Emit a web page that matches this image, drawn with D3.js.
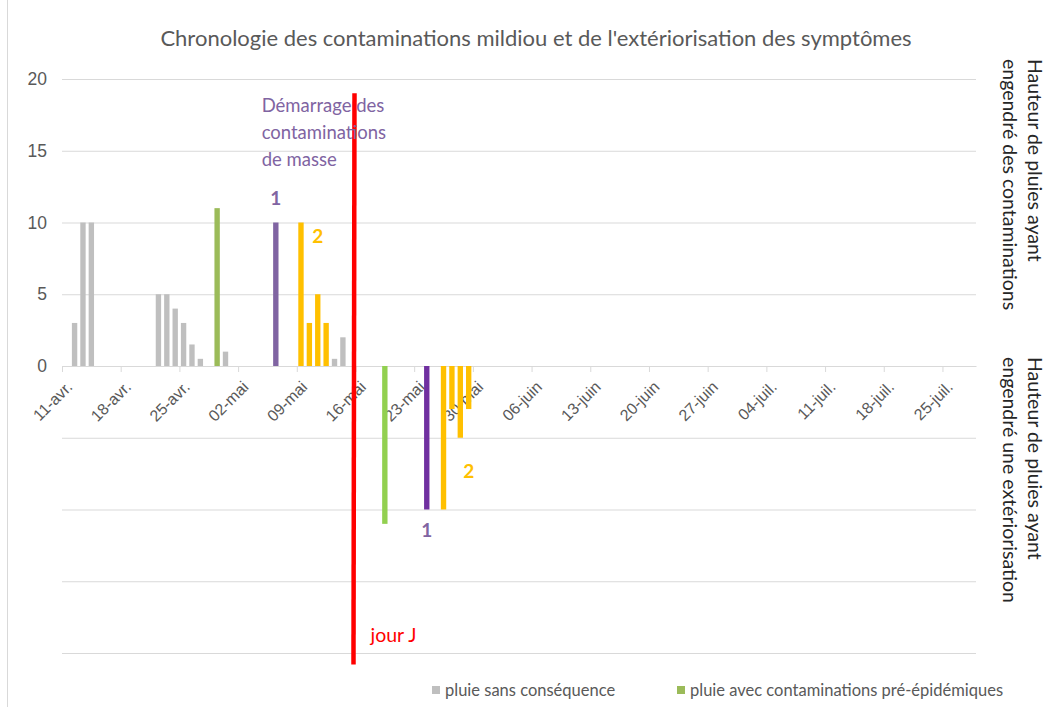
<!DOCTYPE html>
<html>
<head>
<meta charset="utf-8">
<script src="https://cdn.jsdelivr.net/npm/d3@7"></script>
<style>
  body { margin: 0; background: #fff; }
  svg { font-family: Lato, "Liberation Sans", sans-serif; }
  .axis .domain { stroke: #d9d9d9; }
  .axis line { stroke: #d9d9d9; }
  .axis text { fill: #595959; }
  .grid line { stroke: #d9d9d9; }
  .grid .domain { display: none; }
</style>
</head>
<body>
<svg width="1061" height="707"></svg>
<script>
// rain amounts (mm) per day, positive = contamination side, negative = symptom side
const rainNoEffect = [["2021-04-12", 3], ["2021-04-13", 10], ["2021-04-14", 10],
  ["2021-04-22", 5], ["2021-04-23", 5], ["2021-04-24", 4], ["2021-04-25", 3],
  ["2021-04-26", 1.5], ["2021-04-27", 0.5], ["2021-04-30", 1],
  ["2021-05-13", 0.5], ["2021-05-14", 2]]
const rainPreEpidemic = [["2021-04-29", 11]]
const contamination1 = [["2021-05-06", 10]]
const contamination2 = [["2021-05-09", 10], ["2021-05-10", 3], ["2021-05-11", 5], ["2021-05-12", 3]]
const symptomsPre = [["2021-05-19", -11]]
const symptoms1 = [["2021-05-24", -10]]
const symptoms2 = [["2021-05-26", -10], ["2021-05-27", -3], ["2021-05-28", -5], ["2021-05-29", -3]]

const xTickDates = ["2021-04-11", "2021-04-18", "2021-04-25", "2021-05-02", "2021-05-09", "2021-05-16",
  "2021-05-23", "2021-05-30", "2021-06-06", "2021-06-13", "2021-06-20", "2021-06-27",
  "2021-07-04", "2021-07-11", "2021-07-18", "2021-07-25"]
const xTickLabels = ["11-avr.", "18-avr.", "25-avr.", "02-mai", "09-mai", "16-mai", "23-mai", "30-mai",
  "06-juin", "13-juin", "20-juin", "27-juin", "04-juil.", "11-juil.", "18-juil.", "25-juil."]
const yTicks = [0, 5, 10, 15, 20]
const yGrid = [-20, -15, -10, -5, 5, 10, 15, 20]
const jourJ = "2021-05-16"

const parse = d3.timeParse("%Y-%m-%d")

const svg = d3.select("svg"),
      margin = {top: 79, left: 62},
      width = 914,
      height = 574,
      g = svg.append("g").attr("transform", "translate(" + margin.left + "," + margin.top + ")")

const x = d3.scaleTime().domain([parse("2021-04-11"), parse("2021-07-29")]).range([0, width]),
      y = d3.scaleLinear().domain([-20, 20]).range([height, 0])

const dayW = x(parse("2021-04-12")) - x(parse("2021-04-11"))

// outer chart border (left side visible)
svg.append("line")
  .attr("x1", 7.5).attr("x2", 7.5).attr("y1", 0).attr("y2", 707)
  .attr("stroke", "#d9d9d9")

svg.append("text")
  .attr("x", 536).attr("y", 46)
  .attr("text-anchor", "middle")
  .style("font-size", "22px")
  .style("fill", "#595959")
  .text("Chronologie des contaminations mildiou et de l'extériorisation des symptômes")

// gridlines
g.append("g")
  .attr("class", "grid")
  .call(d3.axisLeft(y).tickValues(yGrid).tickSize(-width).tickFormat(""))

// y labels (positive side only)
let yAxis = g.append("g")
  .attr("class", "axis")
  .call(d3.axisLeft(y).tickValues(yTicks).tickSize(0).tickPadding(15))
yAxis.select(".domain").remove()
yAxis.selectAll("text").style("font-size", "17.5px")

// x axis on the zero line
let xAxis = g.append("g")
  .attr("class", "axis")
  .attr("transform", "translate(0," + y(0) + ")")
  .call(d3.axisBottom(x)
    .tickValues(xTickDates.map(parse))
    .tickFormat((d, i) => xTickLabels[i])
    .tickSize(6).tickSizeOuter(0))
xAxis.selectAll("text")
  .attr("x", 0).attr("y", 0).attr("dy", "0.35em")
  .attr("text-anchor", "end")
  .attr("transform", "translate(7,18) rotate(-45)")
  .style("font-size", "16px")

const series = [
  {data: rainNoEffect, color: "#bfbfbf"},
  {data: rainPreEpidemic, color: "#9bbb59"},
  {data: contamination1, color: "#8064a2"},
  {data: contamination2, color: "#ffc000"},
  {data: symptomsPre, color: "#92d050"},
  {data: symptoms1, color: "#7030a0"},
  {data: symptoms2, color: "#ffc000"}
]

series.forEach(function (s) {
  g.selectAll(null)
    .data(s.data)
    .enter().append("rect")
      .attr("x", d => x(parse(d[0])) + dayW * 0.18)
      .attr("width", dayW * 0.64)
      .attr("y", d => y(Math.max(0, d[1])))
      .attr("height", d => Math.abs(y(d[1]) - y(0)))
      .attr("fill", s.color)
})

// jour J line
g.append("line")
  .attr("x1", x(parse(jourJ)) - 1).attr("x2", x(parse(jourJ)) - 2)
  .attr("y1", y(19)).attr("y2", y(-20.8))
  .attr("stroke", "#ff0000")
  .attr("stroke-width", 4.5)

g.append("text")
  .attr("x", x(parse(jourJ)) + 15).attr("y", y(-19.2))
  .style("font-size", "19.5px")
  .style("fill", "#ff0000")
  .text("jour J")

let startNote = g.append("text")
  .attr("x", x(parse("2021-05-06")) - 10)
  .attr("y", y(17.7))
  .style("font-size", "18.5px")
  .style("fill", "#8064a2")
startNote.selectAll("tspan")
  .data(["Démarrage des", "contaminations", "de masse"])
  .enter().append("tspan")
    .attr("x", x(parse("2021-05-06")) - 10)
    .attr("dy", (d, i) => i ? 27 : 0)
    .text(d => d)

const numberLabels = [
  {t: "1", date: "2021-05-06", v: 11.2, color: "#8064a2"},
  {t: "2", date: "2021-05-11", v: 8.6, color: "#ffc000"},
  {t: "1", date: "2021-05-24", v: -11.9, color: "#8064a2"},
  {t: "2", date: "2021-05-29", v: -7.8, color: "#ffc000"}
]
g.selectAll(".num")
  .data(numberLabels)
  .enter().append("text")
    .attr("class", "num")
    .attr("x", d => x(parse(d.date)) + dayW * 0.5)
    .attr("y", d => y(d.v))
    .attr("text-anchor", "middle")
    .style("font-size", "19px")
    .style("font-weight", "bold")
    .style("fill", d => d.color)
    .text(d => d.t)

// right side titles, rotated
const rightTitles = [
  {lines: ["Hauteur de pluies ayant", "engendré des contaminations"], top: 59},
  {lines: ["Hauteur de pluies ayant", "engendré une extériorisation"], top: 357}
]
rightTitles.forEach(function (rt) {
  rt.lines.forEach(function (line, i) {
    svg.append("text")
      .attr("transform", "translate(" + (1028 - i * 25) + "," + rt.top + ") rotate(90)")
      .style("font-size", "19.5px")
      .style("fill", "#262626")
      .text(line)
  })
})

// legend
const legendItems = [
  {label: "pluie sans conséquence", color: "#bfbfbf", x: 432},
  {label: "pluie avec contaminations pré-épidémiques", color: "#9bbb59", x: 677}
]
let legend = svg.selectAll(".legend")
  .data(legendItems)
  .enter().append("g")
    .attr("class", "legend")
    .attr("transform", d => "translate(" + d.x + ",686)")
legend.append("rect")
  .attr("width", 8).attr("height", 8)
  .attr("fill", d => d.color)
legend.append("text")
  .attr("x", 13).attr("y", 9.5)
  .style("font-size", "16.5px")
  .style("fill", "#595959")
  .text(d => d.label)
</script>
</body>
</html>
